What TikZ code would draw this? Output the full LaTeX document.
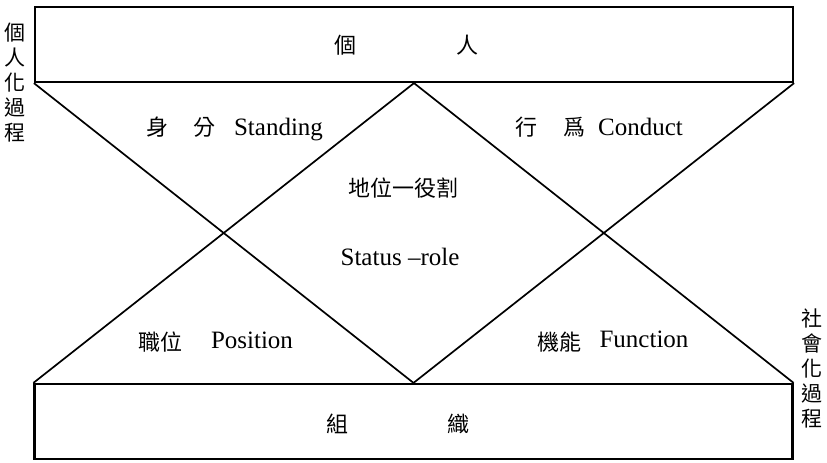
\documentclass[tikz,border=0pt]{standalone}
\usepackage{fontspec}
\setmainfont{Liberation Serif}
\newfontfamily\cjk{Noto Sans CJK TC}
\begin{document}
\begin{tikzpicture}[x=1pt,y=-1pt,
  box/.style={draw, line width=2.2pt, minimum width=758pt, minimum height=75pt, inner sep=0pt},
  edge/.style={line width=1.7pt},
  cj/.style={font=\cjk\fontsize{22}{22}\selectfont, inner sep=0pt},
  lat/.style={font=\fontsize{25}{25}\selectfont, inner sep=0pt, anchor=base},
  vlabel/.style={font=\cjk\fontsize{21}{25}\selectfont, inner sep=0pt, align=center}]
\useasboundingbox (0,0) rectangle (827,463);
% boxes
\node[box] (top) at (414,44.5) {};
\node[box] (bot) at (413.5,421.5) {};
% diagonals
\draw[edge] (top.south west) -- (bot.north);
\draw[edge] (top.south) -- (bot.north west);
\draw[edge] (top.south) -- (bot.north east);
\draw[edge] (top.south east) -- (bot.north);
% box texts
\node[cj] (ko) at (345,45) {個};
\node[cj] (jin) at (467,45) {人};
\node[cj] (so) at (337,424) {組};
\node[cj] (shiki) at (458,424) {織};
% side labels
\node[vlabel] (lv) at (15,83) {個\\人\\化\\過\\程};
\node[vlabel] (rv) at (812,368) {社\\會\\化\\過\\程};
% upper labels
\node[cj] (mi) at (157,127) {身};
\node[cj] (bun) at (204,127) {分};
\node[lat] (standing) at (278.5,135) {Standing};
\node[cj] (gyo) at (526,127) {行};
\node[cj] (i) at (574,127) {爲};
\node[lat] (conduct) at (640.5,135) {Conduct};
% centre
\node[cj] (chii) at (403,188) {地位一役割};
\node[lat] (status) at (400,265) {Status --role};
% lower labels
\node[cj] (shokui) at (160,342) {職位};
\node[lat] (position) at (252,348) {Position};
\node[cj] (kino) at (559,342) {機能};
\node[lat] (function) at (644,347) {Function};
\end{tikzpicture}
\end{document}
